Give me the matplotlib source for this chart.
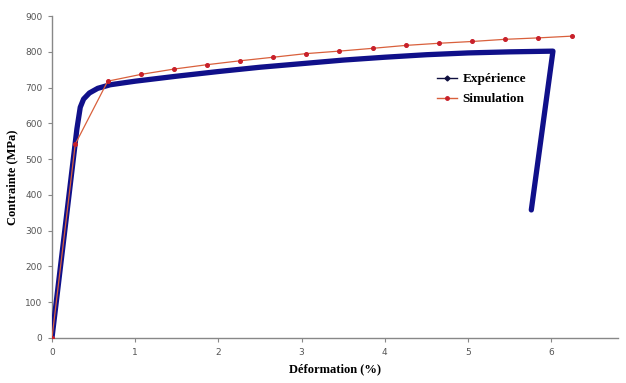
import matplotlib
matplotlib.use('Agg')
import matplotlib.pyplot as plt

# Experimental curve (strain %, stress MPa)
exp_x = [0.0, 0.1, 0.2, 0.3, 0.34, 0.38, 0.45, 0.55, 0.7, 1.0, 1.5, 2.0, 2.5,
         3.0, 3.5, 4.0, 4.5, 5.0, 5.5, 6.02, 5.76]
exp_y = [0, 195, 390, 585, 645, 668, 685, 698, 708, 718, 732, 745, 757,
         767, 777, 785, 792, 797, 800, 802, 358]

# Simulation points
sim_x = [0.0, 0.28, 0.67, 1.07, 1.47, 1.86, 2.26, 2.66, 3.05, 3.45, 3.86,
         4.25, 4.65, 5.05, 5.44, 5.84, 6.25]
sim_y = [0, 542, 718, 737, 752, 764, 775, 785, 795, 802, 810,
         818, 824, 829, 835, 839, 844]

x_ticks = [0, 1, 2, 3, 4, 5, 6]
y_ticks = [0, 100, 200, 300, 400, 500, 600, 700, 800, 900]


def main():
    fig = plt.figure(figsize=(6.26, 3.83), dpi=100)
    ax = fig.add_axes([0.083, 0.1175, 0.904, 0.8405])

    ax.plot(exp_x, exp_y, color='#10108a', linewidth=3.8, solid_joinstyle='round',
            solid_capstyle='round', zorder=3)
    ax.plot(sim_x, sim_y, color='#d9603c', linewidth=0.9, marker='o',
            markersize=2.6, markerfacecolor='#c8202a', markeredgecolor='#c8202a',
            zorder=4)

    # legend handles
    h1, = ax.plot([], [], color='#101040', linewidth=1, marker='D', markersize=2.5)
    h2, = ax.plot([], [], color='#d9603c', linewidth=1, marker='o', markersize=2.5,
                  markerfacecolor='#c8202a', markeredgecolor='#c8202a')
    ax.legend([h1, h2], ['Expérience', 'Simulation'], loc='upper left',
              bbox_to_anchor=(0.66, 0.86), frameon=False, handlelength=1.5,
              handletextpad=0.4, labelspacing=0.6,
              prop={'family': 'Liberation Serif', 'size': 9.5, 'weight': 'bold'})

    ax.set_xlim(0, 6.8)
    ax.set_ylim(0, 900)
    ax.set_xticks(x_ticks)
    ax.set_yticks(y_ticks)
    ax.tick_params(direction='out', length=3, width=0.8, color='#888888',
                   labelsize=6.5, labelcolor='#555555', pad=4)
    for s in ['top', 'right']:
        ax.spines[s].set_visible(False)
    for s in ['left', 'bottom']:
        ax.spines[s].set_color('#888888')
        ax.spines[s].set_linewidth(1.0)

    ax.set_xlabel('Déformation (%)', family='Liberation Serif', weight='bold',
                  fontsize=9, labelpad=5)
    ax.set_ylabel('Contrainte (MPa)', family='Liberation Serif', weight='bold',
                  fontsize=9, labelpad=5)

    fig.savefig('out.png', dpi=100)


if __name__ == "__main__":
    main()
